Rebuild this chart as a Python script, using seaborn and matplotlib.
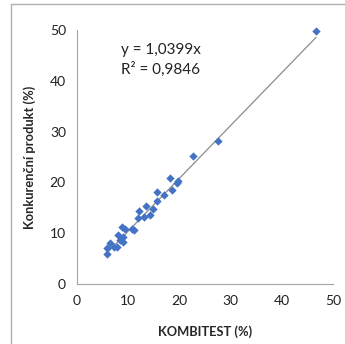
import numpy as np
import pandas as pd
import matplotlib
matplotlib.use("Agg")
import matplotlib.pyplot as plt
import seaborn as sns

# KOMBITEST vs konkurenční produkt (%)
kombitest = [5.8, 5.8, 6.4, 7.2, 7.8, 8.1, 8.4, 9.0, 9.0, 8.7, 9.4, 10.7, 11.1,
             11.9, 13.1, 14.3, 12.1, 14.8, 13.5, 15.7, 17.0, 15.7, 18.5, 19.5,
             19.8, 18.2, 22.7, 27.5, 46.7]
konkurencni = [6.0, 7.0, 8.0, 7.3, 7.3, 9.6, 8.7, 8.3, 9.3, 11.2, 10.8, 10.8, 10.6,
               12.9, 13.2, 13.6, 14.4, 14.8, 15.4, 16.3, 17.5, 18.2, 18.5, 19.9,
               20.3, 20.8, 25.1, 28.1, 49.8]
slope = 1.0399
r2 = 0.9846

df = pd.DataFrame({"KOMBITEST": kombitest, "konk": konkurencni})

sns.set_style("white")
plt.rcParams['font.family'] = ['Lato', 'DejaVu Sans']

fig = plt.figure(figsize=(3.45, 3.44), dpi=100)
ax = fig.add_axes([77/345, 60/344, 256/345, 254/344])

# trendline over the data range
xs = np.array([min(kombitest), max(kombitest)])
ax.plot(xs, slope * xs, color="#8c8c8c", lw=0.9, zorder=1)
sns.scatterplot(data=df, x="KOMBITEST", y="konk", marker="D", s=18,
                color="#4472C4", edgecolor="#4472C4", linewidth=0, ax=ax,
                zorder=2, clip_on=False)

ax.set_xlim(0, 50)
ax.set_ylim(0, 50)
ax.set_xticks(range(0, 51, 10))
ax.set_yticks(range(0, 51, 10))
ax.tick_params(length=0, labelsize=10, colors="#222222", pad=8)
for s in ["top", "right"]:
    ax.spines[s].set_visible(False)
for s in ["left", "bottom"]:
    ax.spines[s].set_color("#a6a6a6")
    ax.spines[s].set_linewidth(0.8)

ax.set_xlabel("KOMBITEST (%)", fontsize=9.3, fontweight="bold", labelpad=13)
ax.set_ylabel("Konkurenční produkt (%)", fontsize=9.3, fontweight="bold", labelpad=10)

ax.text(8.5, 45.3, f"y = {slope:.4f}x".replace(".", ","), fontsize=11, color="#222222")
ax.text(8.5, 41.3, f"R² = {r2:.4f}".replace(".", ","), fontsize=11, color="#222222")

# chart border
fig.add_artist(plt.Line2D([11/345, 11/345], [0, 1 - 4/344], color="#b0b0b0", lw=1))
fig.add_artist(plt.Line2D([11/345, 1], [1 - 4/344, 1 - 4/344], color="#b0b0b0", lw=1))

fig.savefig("out.png", dpi=100)
